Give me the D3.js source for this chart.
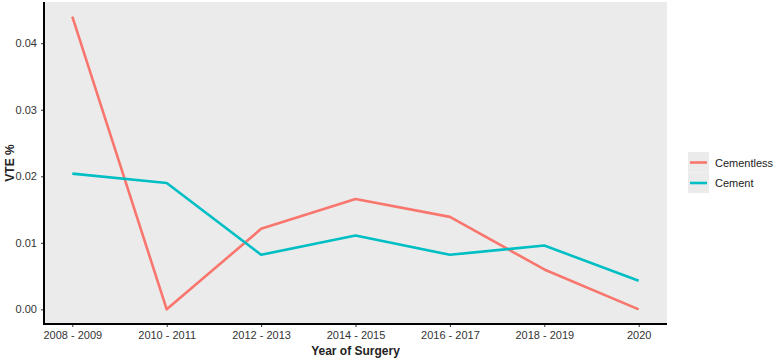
<!DOCTYPE html>
<html>
<head>
<meta charset="utf-8">
<script src="https://cdn.jsdelivr.net/npm/d3@7"></script>
<style>
  body { margin: 0; background: #fff; }
  text { font-family: Arial, "Liberation Sans", sans-serif; }
</style>
</head>
<body>
<div id="chart"></div>
<script>
// values
var years = ["2008 - 2009", "2010 - 2011", "2012 - 2013", "2014 - 2015", "2016 - 2017", "2018 - 2019", "2020"];
var cementless = [0.0440, 0.0000, 0.0121, 0.0166, 0.0139, 0.0060, 0.0000];
var cement = [0.0204, 0.0190, 0.0082, 0.0111, 0.0082, 0.0096, 0.0043];
var yTicks = [0, 0.01, 0.02, 0.03, 0.04];
var seriesNames = ["Cementless", "Cement"];
var seriesColors = ["#F8766D", "#00BFC4"];

var W = 778, H = 359;
var margin = {top: 2, right: 111, bottom: 35, left: 44};
var width = W - margin.left - margin.right,
    height = H - margin.top - margin.bottom;

var svg = d3.select("#chart").append("svg")
    .attr("width", W).attr("height", H);

var g = svg.append("g")
    .attr("transform", "translate(" + margin.left + "," + margin.top + ")");

// ggplot style 5% expansion
var nx = years.length;
var x = d3.scaleLinear()
    .domain([0 - 0.05 * (nx - 1), (nx - 1) * 1.05])
    .range([0, width]);

var yMax = d3.max(cementless.concat(cement));
var y = d3.scaleLinear()
    .domain([-0.05 * yMax, yMax * 1.05])
    .range([height, 0]);

g.append("rect")
    .attr("width", width).attr("height", height)
    .attr("fill", "#EBEBEB");

var line = d3.line()
    .x(function(d, i) { return x(i); })
    .y(function(d) { return y(d); });

[cementless, cement].forEach(function(s, k) {
    g.append("path")
        .datum(s)
        .attr("fill", "none")
        .attr("stroke", seriesColors[k])
        .attr("stroke-width", 2.6)
        .attr("stroke-linejoin", "round")
        .attr("d", line);
});

// axes
var xAxis = g.append("g")
    .attr("transform", "translate(0," + height + ")")
    .call(d3.axisBottom(x)
        .tickValues(d3.range(nx))
        .tickFormat(function(i) { return years[i]; })
        .tickSize(3).tickPadding(4));

var yAxis = g.append("g")
    .call(d3.axisLeft(y)
        .tickValues(yTicks)
        .tickFormat(d3.format(".2f"))
        .tickSize(3).tickPadding(4));

[xAxis, yAxis].forEach(function(a) {
    a.select(".domain").remove();
    a.selectAll(".tick line").attr("stroke", "#333");
    a.selectAll(".tick text")
        .attr("fill", "#333")
        .style("font-size", "11px");
});

// axis lines
g.append("line")
    .attr("x1", 0).attr("x2", width)
    .attr("y1", height).attr("y2", height)
    .attr("stroke", "#000").attr("stroke-width", 2);
g.append("line")
    .attr("x1", 0).attr("x2", 0)
    .attr("y1", 0).attr("y2", height + 1)
    .attr("stroke", "#000").attr("stroke-width", 2);

// axis titles
svg.append("text")
    .attr("x", margin.left + width / 2)
    .attr("y", 355)
    .attr("text-anchor", "middle")
    .style("font-size", "12px")
    .style("font-weight", "bold")
    .attr("fill", "#222")
    .text("Year of Surgery");

svg.append("text")
    .attr("transform", "translate(14," + (margin.top + height / 2) + ") rotate(-90)")
    .attr("text-anchor", "middle")
    .style("font-size", "12px")
    .style("font-weight", "bold")
    .attr("fill", "#222")
    .text("VTE %");

// legend
var legend = svg.append("g")
    .attr("transform", "translate(688,152)");

seriesNames.forEach(function(name, i) {
    var row = legend.append("g")
        .attr("transform", "translate(0," + (i * 20.5) + ")");
    row.append("rect")
        .attr("width", 21).attr("height", 20.5)
        .attr("fill", "#EBEBEB");
    row.append("line")
        .attr("x1", 2).attr("x2", 19)
        .attr("y1", 10.5).attr("y2", 10.5)
        .attr("stroke", seriesColors[i])
        .attr("stroke-width", 2.6);
    row.append("text")
        .attr("x", 27).attr("y", 14.5)
        .style("font-size", "11px")
        .attr("fill", "#222")
        .text(name);
});
</script>
</body>
</html>
